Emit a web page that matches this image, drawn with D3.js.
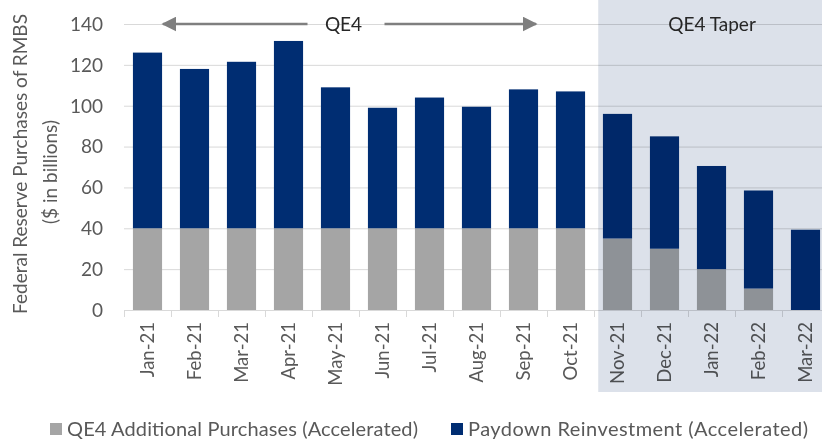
<!DOCTYPE html>
<html>
<head>
<meta charset="utf-8">
<script src="https://cdn.jsdelivr.net/npm/d3@7"></script>
<style>
  body { margin: 0; background: #fff; }
  svg { font-family: Lato, "Open Sans", sans-serif; }
</style>
</head>
<body>
<div id="chart"></div>
<script>
var months = ["Jan-21", "Feb-21", "Mar-21", "Apr-21", "May-21", "Jun-21", "Jul-21", "Aug-21",
  "Sep-21", "Oct-21", "Nov-21", "Dec-21", "Jan-22", "Feb-22", "Mar-22"];

// QE4 additional purchases (grey) and paydown reinvestment (navy), $ billions
var qe4Additional = [40, 40, 40, 40, 40, 40, 40, 40, 40, 40, 35, 30, 20, 10.5, 0];
var paydown = [86, 78, 81.5, 91.7, 69, 59, 64, 59.5, 68, 67, 61, 55, 50.5, 48, 39.3];

var yTicks = [0, 20, 40, 60, 80, 100, 120, 140];
var seriesNames = ["QE4 Additional Purchases (Accelerated)", "Paydown Reinvestment (Accelerated)"];
var taperStart = "Nov-21";

var width = 822, height = 440;
var grey = "#a5a5a5", navy = "#002d72", textCol = "#595959", gridCol = "#d9d9d9";

var svg = d3.select("#chart").append("svg")
  .attr("width", width)
  .attr("height", height);

var x = d3.scaleBand()
  .domain(months)
  .range([124, 829])
  .paddingInner(0.38)
  .paddingOuter(0.19);

var y = d3.scaleLinear().domain([0, 140]).range([310, 24]);

var step = x.step();

// gridlines
svg.selectAll(".grid")
  .data(yTicks.slice(1))
  .enter().append("line")
  .attr("x1", 124).attr("x2", width)
  .attr("y1", function(d) { return y(d) + 0.5; })
  .attr("y2", function(d) { return y(d) + 0.5; })
  .attr("stroke", gridCol).attr("stroke-width", 1);

// y labels
svg.selectAll(".ylab")
  .data(yTicks)
  .enter().append("text")
  .attr("x", 103)
  .attr("y", function(d) { return y(d); })
  .attr("dy", "0.36em")
  .attr("text-anchor", "end")
  .attr("fill", textCol)
  .attr("font-size", 19)
  .text(function(d) { return d; });

// stacked bars
var stack = months.map(function(m, i) {
  return { month: m, a: qe4Additional[i], b: paydown[i] };
});

svg.selectAll(".barA")
  .data(stack)
  .enter().append("rect")
  .attr("x", function(d) { return x(d.month); })
  .attr("width", x.bandwidth())
  .attr("y", function(d) { return y(d.a); })
  .attr("height", function(d) { return y(0) - y(d.a); })
  .attr("fill", grey);

svg.selectAll(".barB")
  .data(stack)
  .enter().append("rect")
  .attr("x", function(d) { return x(d.month); })
  .attr("width", x.bandwidth())
  .attr("y", function(d) { return y(d.a + d.b); })
  .attr("height", function(d) { return y(d.a) - y(d.a + d.b); })
  .attr("fill", navy);

// x axis line and ticks between categories
svg.append("line")
  .attr("x1", 124).attr("x2", width)
  .attr("y1", y(0) + 0.5).attr("y2", y(0) + 0.5)
  .attr("stroke", gridCol);

svg.selectAll(".xtick")
  .data(months)
  .enter().append("line")
  .attr("x1", function(d) { return x(d) - step * 0.19 + 0.5; })
  .attr("x2", function(d) { return x(d) - step * 0.19 + 0.5; })
  .attr("y1", y(0)).attr("y2", y(0) + 7)
  .attr("stroke", gridCol);

// x labels
svg.selectAll(".xlab")
  .data(months)
  .enter().append("text")
  .attr("transform", function(d) {
    return "translate(" + (x(d) + x.bandwidth() / 2) + "," + 322 + ") rotate(-90)";
  })
  .attr("dy", "0.36em")
  .attr("text-anchor", "end")
  .attr("fill", textCol)
  .attr("font-size", 18.5)
  .text(function(d) { return d; });

// taper shading (multiply so the bars underneath darken like the original)
var shadeX = x(taperStart) - step * 0.1;
svg.append("rect")
  .attr("x", shadeX).attr("y", 0)
  .attr("width", width - shadeX).attr("height", 392)
  .attr("fill", "#dce1ea")
  .style("mix-blend-mode", "multiply");

svg.append("text")
  .attr("x", 712).attr("y", y(140))
  .attr("dy", "0.36em")
  .attr("text-anchor", "middle")
  .attr("fill", "#262626")
  .attr("font-size", 19)
  .text("QE4 Taper");

// QE4 arrows
svg.append("defs").append("marker")
  .attr("id", "head")
  .attr("viewBox", "0 0 10 10")
  .attr("refX", 9).attr("refY", 5)
  .attr("markerWidth", 6).attr("markerHeight", 6)
  .attr("orient", "auto-start-reverse")
  .append("path")
  .attr("d", "M0,0L10,5L0,10z")
  .attr("fill", "#7f7f7f");

var qeMid = (x("Jan-21") + x("Sep-21") + x.bandwidth()) / 2 + 8;
svg.append("line")
  .attr("x1", qeMid - 36).attr("x2", x("Jan-21") + 30)
  .attr("y1", y(140)).attr("y2", y(140))
  .attr("stroke", "#7f7f7f").attr("stroke-width", 2.5)
  .attr("marker-end", "url(#head)");
svg.append("line")
  .attr("x1", qeMid + 41).attr("x2", x("Sep-21") + x.bandwidth() - 2)
  .attr("y1", y(140)).attr("y2", y(140))
  .attr("stroke", "#7f7f7f").attr("stroke-width", 2.5)
  .attr("marker-end", "url(#head)");
svg.append("text")
  .attr("x", qeMid).attr("y", y(140))
  .attr("dy", "0.36em")
  .attr("text-anchor", "middle")
  .attr("fill", "#262626")
  .attr("font-size", 19)
  .text("QE4");

// y axis title
svg.append("text")
  .attr("transform", "translate(20,164) rotate(-90)")
  .attr("dy", "0.36em")
  .attr("text-anchor", "middle")
  .attr("fill", textCol)
  .attr("font-size", 19)
  .text("Federal Reserve Purchases of RMBS");
svg.append("text")
  .attr("transform", "translate(50,172) rotate(-90)")
  .attr("dy", "0.36em")
  .attr("text-anchor", "middle")
  .attr("fill", textCol)
  .attr("font-size", 19)
  .text("($ in billions)");

// legend
var legendX = [50, 451];
var legend = svg.selectAll(".legend")
  .data(seriesNames)
  .enter().append("g")
  .attr("transform", function(d, i) { return "translate(" + legendX[i] + ",429)"; });

legend.append("rect")
  .attr("x", 0).attr("y", -6)
  .attr("width", 12).attr("height", 12)
  .attr("fill", function(d, i) { return i === 0 ? grey : navy; });

legend.append("text")
  .attr("x", 17)
  .attr("dy", "0.36em")
  .attr("fill", textCol)
  .attr("font-size", 20)
  .attr("textLength", function(d, i) { return i === 0 ? 351 : 340; })
  .text(function(d) { return d; });
</script>
</body>
</html>
